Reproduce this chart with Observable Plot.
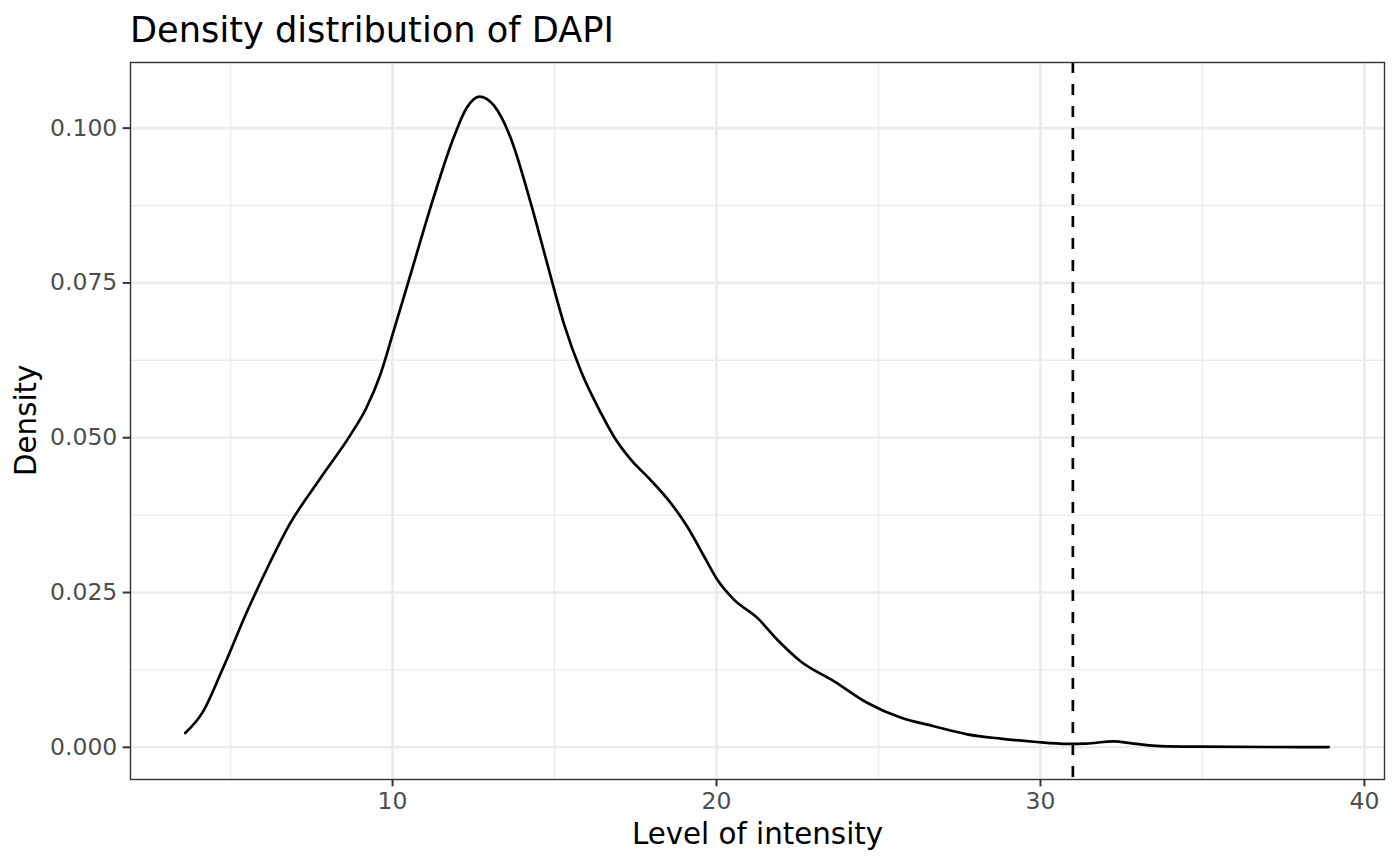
<!DOCTYPE html>
<html>
<head>
<meta charset="utf-8">
<script src="https://cdn.jsdelivr.net/npm/d3@7"></script>
<script src="https://cdn.jsdelivr.net/npm/@observablehq/plot@0.6"></script>
<style>
  html, body { margin: 0; padding: 0; background: #fff; }
  body { width: 1400px; height: 865px; overflow: hidden; font-family: "DejaVu Sans", sans-serif; }
  #title { height: 52px; box-sizing: border-box; padding-top: 12px; padding-left: 130px;
           font-size: 35.2px; line-height: 35.2px; color: #000; white-space: nowrap; }
</style>
</head>
<body>
<div id="title">Density distribution of DAPI</div>
<div id="chart"></div>
<script>
const titleText = "Density distribution of DAPI";
const xLabel = "Level of intensity";
const yLabel = "Density";

const intensity = [3.6, 4.13, 4.75, 5.48, 6.10, 6.82, 7.75, 8.68, 9.19, 9.61, 10.02, 10.54, 11.26, 11.88, 12.29, 12.68, 13.12, 13.64, 14.26, 14.77, 15.29, 15.81, 16.43, 16.83, 17.35, 17.96, 18.58, 19.09, 19.61, 20.02, 20.53, 21.26, 21.87, 22.59, 23.62, 24.65, 25.68, 26.71, 27.74, 28.77, 29.79, 30.82, 31.4, 32.26, 32.87, 33.7, 34.9, 37.0, 38.9];
const density = [0.0023, 0.0056, 0.0126, 0.0216, 0.0286, 0.0360, 0.0433, 0.0503, 0.0548, 0.0600, 0.0670, 0.0761, 0.0887, 0.0984, 0.1033, 0.1051, 0.1037, 0.0985, 0.0880, 0.0782, 0.0684, 0.0608, 0.0540, 0.0502, 0.0465, 0.0432, 0.0395, 0.0357, 0.0309, 0.0271, 0.0239, 0.0209, 0.0174, 0.0139, 0.0107, 0.0072, 0.0048, 0.0034, 0.0021, 0.0014, 0.0009, 0.00055, 0.0006, 0.00095, 0.0006, 0.0002, 0.0001, 0.00005, 0.00003];
const threshold = [31.0];

const xMajor = [10, 20, 30, 40];
const xMinor = [5, 15, 25, 35];
const yMajor = [0, 0.025, 0.05, 0.075, 0.1];
const yMinor = [0.0125, 0.0375, 0.0625, 0.0875];

const data = intensity.map((x, i) => ({x, y: density[i]}));

const chart = Plot.plot({
  width: 1400,
  height: 813,
  marginTop: 10,
  marginBottom: 86,
  marginLeft: 130,
  marginRight: 16,
  style: {fontFamily: "DejaVu Sans, sans-serif", background: "#fff", overflow: "visible"},
  x: {domain: [1.91, 40.62], label: null},
  y: {domain: [-0.0052, 0.1106], label: null},
  marks: [
    Plot.gridX(xMinor, {stroke: "#ebebeb", strokeOpacity: 1, strokeWidth: 1.4}),
    Plot.gridY(yMinor, {stroke: "#ebebeb", strokeOpacity: 1, strokeWidth: 1.4}),
    Plot.gridX(xMajor, {stroke: "#ebebeb", strokeOpacity: 1, strokeWidth: 2.6}),
    Plot.gridY(yMajor, {stroke: "#ebebeb", strokeOpacity: 1, strokeWidth: 2.6}),
    Plot.line(data, {x: "x", y: "y", curve: "monotone-x", stroke: "#000", strokeWidth: 2.7}),
    Plot.ruleX(threshold, {stroke: "#000", strokeWidth: 2.7, strokeDasharray: "11,11"}),
    Plot.frame({stroke: "#333", strokeWidth: 1.4}),
    Plot.axisX({ticks: xMajor, tickSize: 7.3, stroke: "#333", strokeWidth: 2, fill: "none", label: null}),
    Plot.axisX({ticks: xMajor, tickSize: 7.3, tickPadding: 5.9, stroke: "none", fill: "#4d4d4d", fontSize: 23.5, tickFormat: d3.format("d"), label: null}),
    Plot.axisY({ticks: yMajor, tickSize: 7.3, stroke: "#333", strokeWidth: 2, fill: "none", label: null}),
    Plot.axisY({ticks: yMajor, tickSize: 7.3, tickPadding: 5.9, stroke: "none", fill: "#4d4d4d", fontSize: 23.5, tickFormat: d3.format(".3f"), label: null}),
    Plot.text([xLabel], {frameAnchor: "bottom", text: d => d, dy: 64, fontSize: 29.3, fill: "#000"}),
    Plot.text([yLabel], {frameAnchor: "left", text: d => d, rotate: -90, dx: -103.4, dy: 55, fontSize: 29.3, fill: "#000"})
  ]
});
document.getElementById("chart").appendChild(chart);
</script>
</body>
</html>
